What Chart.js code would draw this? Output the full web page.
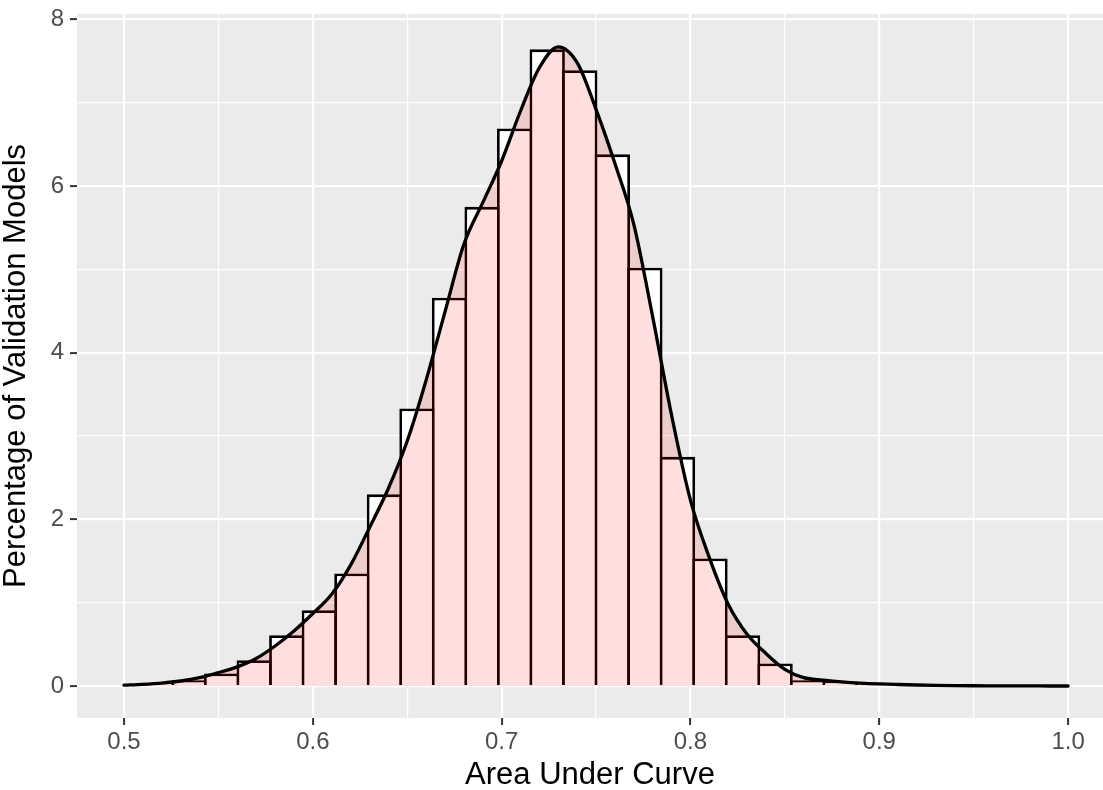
<!DOCTYPE html>
<html>
<head>
<meta charset="utf-8">
<script src="https://cdn.jsdelivr.net/npm/chart.js@4.4.1/dist/chart.umd.min.js"></script>
<style>
  html, body { margin: 0; padding: 0; background: #ffffff; }
</style>
</head>
<body>
<canvas id="aucChart" width="1103" height="790"></canvas>
<script>
// histogram bins (30 bins, centred on the data range)
const binCenters = [0.5, 0.51724, 0.53448, 0.55172, 0.56897, 0.58621, 0.60345, 0.62069, 0.63793, 0.65517,
    0.67241, 0.68966, 0.7069, 0.72414, 0.74138, 0.75862, 0.77586, 0.7931, 0.81034, 0.82759,
    0.84483, 0.86207, 0.87931, 0.89655, 0.91379, 0.93103, 0.94828, 0.96552, 0.98276, 1.0];
const binPercent = [0, 0.04, 0.07, 0.15, 0.31, 0.61, 0.91, 1.35, 2.30, 3.33,
    4.66, 5.75, 6.69, 7.64, 7.39, 6.38, 5.02, 2.75, 1.53, 0.61,
    0.27, 0.07, 0.05, 0.02, 0.01, 0, 0, 0, 0, 0];

// kernel density estimate, scaled to percent
const densityAuc = [0.50, 0.51, 0.52, 0.53, 0.54, 0.55, 0.56, 0.57, 0.58, 0.59,
    0.60, 0.61, 0.62, 0.63, 0.64, 0.65, 0.66, 0.67, 0.68, 0.69,
    0.70, 0.71, 0.72, 0.73, 0.74, 0.75, 0.76, 0.77, 0.78, 0.79,
    0.80, 0.81, 0.82, 0.83, 0.84, 0.85, 0.86, 0.87, 0.88, 0.89,
    0.90, 0.91, 0.92, 0.93, 0.94, 0.95, 0.96, 0.97, 0.98, 0.99, 1.00];
const densityPercent = [0.01, 0.02, 0.035, 0.06, 0.10, 0.16, 0.23, 0.33, 0.48, 0.66,
    0.87, 1.10, 1.45, 1.90, 2.37, 2.94, 3.67, 4.49, 5.30, 5.80,
    6.30, 6.90, 7.42, 7.67, 7.48, 6.92, 6.27, 5.54, 4.43, 3.25,
    2.23, 1.54, 0.98, 0.62, 0.39, 0.20, 0.10, 0.07, 0.05, 0.035,
    0.025, 0.018, 0.012, 0.008, 0.005, 0.003, 0.002, 0.001, 0.001, 0, 0];

const xTicks = [0.5, 0.6, 0.7, 0.8, 0.9, 1.0];
const xMinor = [0.55, 0.65, 0.75, 0.85, 0.95];
const yTicks = [0, 2, 4, 6, 8];
const yMinor = [1, 3, 5, 7];

const isIn = (list, v) => list.some(t => Math.abs(t - v) < 1e-9);

const panelBackground = {
    id: 'panelBackground',
    beforeDraw(chart) {
        const { ctx, chartArea: a } = chart;
        ctx.save();
        ctx.fillStyle = '#EBEBEB';
        ctx.fillRect(a.left, a.top, a.right - a.left, a.bottom - a.top);
        ctx.restore();
    }
};

const gridOpts = (major) => ({
    color: '#FFFFFF',
    lineWidth: (c) => isIn(major, c.tick.value) ? 2.2 : 1.2,
    tickColor: (c) => isIn(major, c.tick.value) ? '#333333' : 'rgba(0,0,0,0)',
    tickWidth: 2,
    tickLength: 7,
    drawOnChartArea: true
});

const fontFamily = '"Liberation Sans", Arial, sans-serif';

// outlines overlap between neighbouring bins, like centred strokes
const outline = 2.8;
const binPixelWidth = 32.56;

new Chart(document.getElementById('aucChart'), {
    type: 'bar',
    data: {
        datasets: [{
            type: 'line',
            label: 'density',
            data: densityAuc.map((x, i) => ({ x: x, y: densityPercent[i] })),
            borderColor: '#000000',
            borderWidth: 3.3,
            borderCapStyle: 'round',
            pointRadius: 0,
            fill: 'origin',
            backgroundColor: 'rgba(255,0,0,0.13)',
            cubicInterpolationMode: 'monotone',
            order: 0
        }, {
            type: 'bar',
            label: 'histogram',
            data: binCenters.map((x, i) => ({ x: x, y: binPercent[i] })),
            backgroundColor: '#FFFFFF',
            borderColor: '#000000',
            borderWidth: outline,
            barPercentage: (binPixelWidth + outline) / binPixelWidth,
            categoryPercentage: 1,
            order: 1
        }]
    },
    options: {
        responsive: false,
        animation: false,
        devicePixelRatio: 1,
        layout: { padding: { top: 14, right: 0, left: 0, bottom: 0 } },
        plugins: {
            legend: { display: false },
            tooltip: { enabled: false }
        },
        scales: {
            x: {
                type: 'linear',
                offset: false,
                min: 0.4751,
                max: 1.0185,
                afterBuildTicks: (axis) => {
                    axis.ticks = xTicks.concat(xMinor).sort((a, b) => a - b).map(v => ({ value: v }));
                },
                afterFit: (scale) => { scale.height = 72; },
                grid: Object.assign(gridOpts(xTicks), { offset: false }),
                border: { display: false },
                ticks: {
                    autoSkip: false,
                    maxRotation: 0,
                    padding: 3,
                    color: '#4D4D4D',
                    font: { family: fontFamily, size: 24 },
                    callback: (v) => isIn(xTicks, v) ? v.toFixed(1) : ''
                },
                title: {
                    display: true,
                    text: 'Area Under Curve',
                    color: '#000000',
                    font: { family: fontFamily, size: 31 },
                    padding: { top: 0, bottom: -4 }
                }
            },
            y: {
                min: -0.384,
                max: 8.064,
                afterBuildTicks: (axis) => {
                    axis.ticks = yTicks.concat(yMinor).sort((a, b) => a - b).map(v => ({ value: v }));
                },
                afterFit: (scale) => {
                    scale.width = 77;
                    scale.paddingTop = 0;
                    scale.paddingBottom = 0;
                },
                grid: gridOpts(yTicks),
                border: { display: false },
                ticks: {
                    padding: 6,
                    color: '#4D4D4D',
                    font: { family: fontFamily, size: 24 },
                    callback: (v) => isIn(yTicks, v) ? String(v) : ''
                },
                title: {
                    display: true,
                    text: 'Percentage of Validation Models',
                    color: '#000000',
                    font: { family: fontFamily, size: 31 },
                    padding: { top: -2, bottom: 0 }
                }
            }
        }
    },
    plugins: [panelBackground]
});
</script>
</body>
</html>
